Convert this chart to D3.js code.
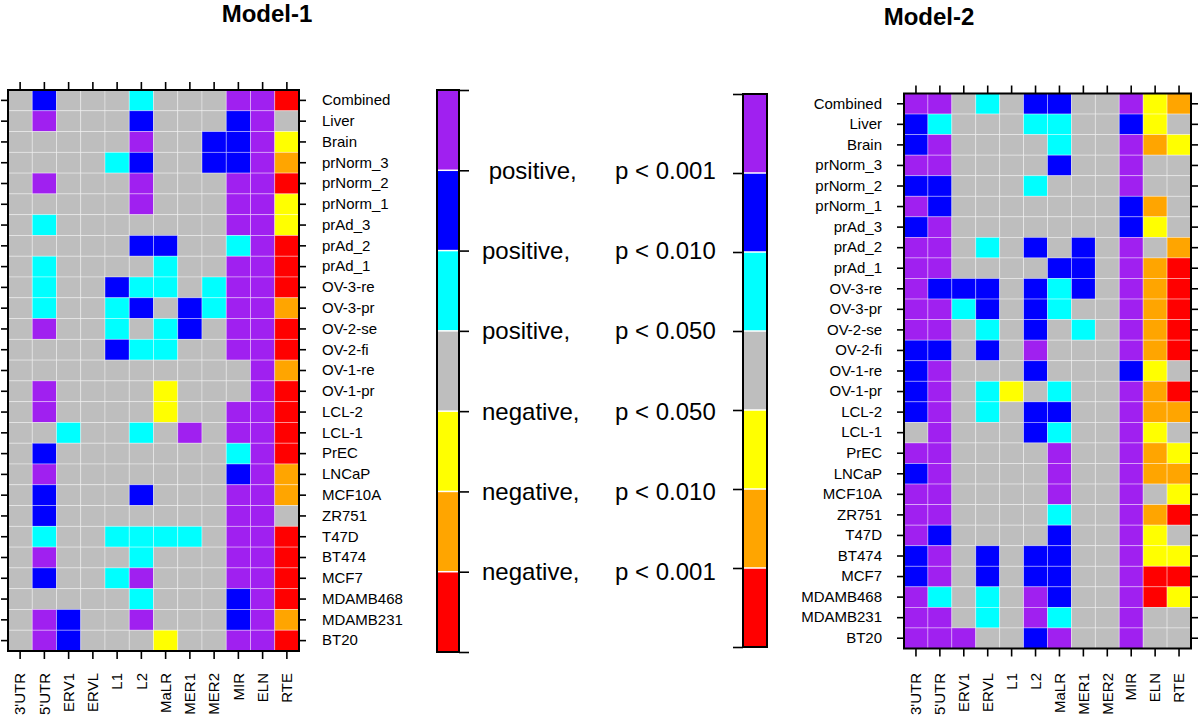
<!DOCTYPE html>
<html>
<head>
<meta charset="utf-8">
<script src="https://cdn.jsdelivr.net/npm/d3@7"></script>
<style>
body { margin: 0; background: #fff; }
svg { font-family: "Liberation Sans", Arial, Helvetica, sans-serif; }
</style>
</head>
<body>
<svg id="chart" width="1200" height="718"></svg>
<script>
const columns = ["3'UTR", "5'UTR", "ERV1", "ERVL", "L1", "L2", "MaLR", "MER1", "MER2", "MIR", "ELN", "RTE"];
const rows = ["Combined", "Liver", "Brain", "prNorm_3", "prNorm_2", "prNorm_1", "prAd_3", "prAd_2", "prAd_1",
    "OV-3-re", "OV-3-pr", "OV-2-se", "OV-2-fi", "OV-1-re", "OV-1-pr", "LCL-2", "LCL-1", "PrEC", "LNCaP",
    "MCF10A", "ZR751", "T47D", "BT474", "MCF7", "MDAMB468", "MDAMB231", "BT20"];

// 3 / 2 / 1 = positive p<0.001 / 0.010 / 0.050, 0 = n.s., -1 / -2 / -3 = negative p<0.050 / 0.010 / 0.001
const model1 = [
    [0,2,0,0,0,1,0,0,0,3,3,-3],
    [0,3,0,0,0,2,0,0,0,2,3,0],
    [0,0,0,0,0,3,0,0,2,2,3,-1],
    [0,0,0,0,1,2,0,0,2,2,3,-2],
    [0,3,0,0,0,3,0,0,0,3,3,-3],
    [0,0,0,0,0,3,0,0,0,3,3,-1],
    [0,1,0,0,0,0,0,0,0,3,3,-1],
    [0,0,0,0,0,2,2,0,0,1,3,-3],
    [0,1,0,0,0,0,1,0,0,3,3,-3],
    [0,1,0,0,2,1,1,0,1,3,3,-3],
    [0,1,0,0,1,2,0,2,1,3,3,-2],
    [0,3,0,0,1,0,1,2,0,3,3,-3],
    [0,0,0,0,2,1,1,0,0,3,3,-3],
    [0,0,0,0,0,0,0,0,0,0,3,-2],
    [0,3,0,0,0,0,-1,0,0,0,3,-3],
    [0,3,0,0,0,0,-1,0,0,3,3,-3],
    [0,0,1,0,0,1,0,3,0,3,3,-3],
    [0,2,0,0,0,0,0,0,0,1,3,-3],
    [0,3,0,0,0,0,0,0,0,2,3,-2],
    [0,2,0,0,0,2,0,0,0,3,3,-2],
    [0,2,0,0,0,0,0,0,0,3,3,0],
    [0,1,0,0,1,1,1,1,0,3,3,-3],
    [0,3,0,0,0,1,0,0,0,3,3,-3],
    [0,2,0,0,1,3,0,0,0,3,3,-3],
    [0,0,0,0,0,1,0,0,0,2,3,-3],
    [0,3,2,0,0,3,0,0,0,2,3,-2],
    [0,3,2,0,0,0,-1,0,0,3,3,-3]
];

const model2 = [
    [3,3,0,1,0,2,2,0,0,3,-1,-2],
    [2,1,0,0,0,1,1,0,0,2,-1,0],
    [2,3,0,0,0,0,1,0,0,3,-2,-1],
    [3,3,0,0,0,0,2,0,0,3,0,0],
    [2,2,0,0,0,1,0,0,0,3,0,0],
    [3,2,0,0,0,0,0,0,0,2,-2,0],
    [2,3,0,0,0,0,0,0,0,2,-1,0],
    [3,3,0,1,0,2,0,2,0,3,0,-2],
    [3,3,0,0,0,0,2,2,0,3,-2,-3],
    [3,2,2,2,0,2,1,2,0,3,-2,-3],
    [3,3,1,2,0,2,1,0,0,3,-2,-3],
    [3,3,0,1,0,2,0,1,0,3,-2,-3],
    [2,2,0,2,0,3,0,0,0,3,-2,-3],
    [2,3,0,0,0,2,0,0,0,2,-1,0],
    [2,3,0,1,-1,0,1,0,0,3,-2,-3],
    [2,3,0,1,0,2,2,0,0,3,-2,-2],
    [0,3,0,0,0,2,1,0,0,3,-1,0],
    [3,3,0,0,0,0,3,0,0,3,-2,-1],
    [2,3,0,0,0,0,3,0,0,3,-2,-2],
    [3,3,0,0,0,0,3,0,0,3,0,-1],
    [3,3,0,0,0,0,1,0,0,3,-2,-3],
    [3,2,0,0,0,0,2,0,0,3,-1,0],
    [2,3,0,2,0,2,2,0,0,3,-1,-1],
    [2,3,0,2,0,2,2,0,0,3,-3,-3],
    [3,1,0,1,0,3,2,0,0,3,-3,-1],
    [3,3,0,1,0,3,1,0,0,3,0,0],
    [3,3,3,0,0,2,3,0,0,3,0,0]
];

const levels = [3, 2, 1, 0, -1, -2, -3];
const levelColors = ["#A020F0", "#0000FF", "#00FFFF", "#BEBEBE", "#FFFF00", "#FFA500", "#FF0000"];
const breaks = [3.5, 2.5, 1.5, 0.5, -0.5, -1.5, -2.5, -3.5];
const labelBreaks = [2.5, 1.5, 0.5, -0.5, -1.5, -2.5];
const signLabels = [" positive,", "positive,", "positive,", "negative,", "negative,", "negative,"];
const pLabels = ["p < 0.001", "p < 0.010", "p < 0.050", "p < 0.050", "p < 0.010", "p < 0.001"];

const svg = d3.select("#chart");
const color = d3.scaleOrdinal().domain(levels).range(levelColors);

function styleAxis(g) {
    g.select(".domain").remove();
    g.selectAll(".tick line").attr("stroke", "#000").attr("stroke-width", 1.6);
    g.selectAll("text").attr("fill", "#000").style("font-size", "15px")
        .style("font-family", "'Liberation Sans', Arial, Helvetica, sans-serif");
}

function drawPanel(data, box, labelSide, title, titleX, titleY) {
    const x = d3.scaleBand().domain(columns).range([box.x0, box.x1]);
    const y = d3.scaleBand().domain(rows).range([box.y0, box.y1]);

    const cells = [];
    data.forEach((r, i) => r.forEach((v, j) => cells.push({ row: rows[i], col: columns[j], v: v })));

    svg.append("g").selectAll("rect")
        .data(cells)
        .enter()
        .append("rect")
        .attr("x", d => x(d.col))
        .attr("y", d => y(d.row))
        .attr("width", x.bandwidth())
        .attr("height", y.bandwidth())
        .attr("fill", d => color(d.v))
        .attr("stroke", "rgba(255,255,255,0.45)")
        .attr("stroke-width", 0.8);

    svg.append("rect")
        .attr("x", box.x0).attr("y", box.y0)
        .attr("width", box.x1 - box.x0).attr("height", box.y1 - box.y0)
        .attr("fill", "none").attr("stroke", "#000").attr("stroke-width", 2);

    const left = svg.append("g").attr("transform", `translate(${box.x0},0)`)
        .call(d3.axisLeft(y).tickSize(7).tickPadding(15)
            .tickFormat(labelSide === "left" ? d => d : ""));
    styleAxis(left);

    const right = svg.append("g").attr("transform", `translate(${box.x1},0)`)
        .call(d3.axisRight(y).tickSize(7).tickPadding(16)
            .tickFormat(labelSide === "right" ? d => d : ""));
    styleAxis(right);

    const top = svg.append("g").attr("transform", `translate(0,${box.y0})`)
        .call(d3.axisTop(x).tickSize(8).tickFormat(""));
    styleAxis(top);

    const bottom = svg.append("g").attr("transform", `translate(0,${box.y1})`)
        .call(d3.axisBottom(x).tickSize(8));
    styleAxis(bottom);
    bottom.selectAll("text")
        .attr("transform", "rotate(-90)")
        .attr("x", -(673 - box.y1))
        .attr("y", 0)
        .attr("dy", "0.35em")
        .style("text-anchor", "end");

    svg.append("text")
        .attr("x", titleX).attr("y", titleY)
        .attr("text-anchor", "middle")
        .style("font-size", "24px").style("font-weight", "bold")
        .text(title);
}

function drawColorbar(box, side) {
    const yb = d3.scaleLinear().domain([3.5, -3.5]).range([box.y0, box.y1]);
    const g = svg.append("g");

    g.selectAll("rect")
        .data(levels)
        .enter()
        .append("rect")
        .attr("x", box.x0)
        .attr("y", d => yb(d + 0.5))
        .attr("width", box.x1 - box.x0)
        .attr("height", d => yb(d - 0.5) - yb(d + 0.5))
        .attr("fill", d => color(d));

    g.selectAll(".sep")
        .data(labelBreaks)
        .enter()
        .append("line")
        .attr("x1", box.x0).attr("x2", box.x1)
        .attr("y1", d => yb(d)).attr("y2", d => yb(d))
        .attr("stroke", "#fff").attr("stroke-width", 1.5);

    g.append("rect")
        .attr("x", box.x0).attr("y", box.y0)
        .attr("width", box.x1 - box.x0).attr("height", box.y1 - box.y0)
        .attr("fill", "none").attr("stroke", "#000").attr("stroke-width", 2);

    const axis = side === "right"
        ? d3.axisRight(yb).tickValues(breaks).tickSize(10).tickFormat("")
        : d3.axisLeft(yb).tickValues(breaks).tickSize(10).tickFormat("");
    const ax = svg.append("g")
        .attr("transform", `translate(${side === "right" ? box.x1 : box.x0},0)`)
        .call(axis);
    styleAxis(ax);
    return yb;
}

drawPanel(model1, { x0: 8, x1: 299, y0: 90, y1: 651 }, "right", "Model-1", 267, 22);
drawPanel(model2, { x0: 904, x1: 1191, y0: 93.5, y1: 648.5 }, "left", "Model-2", 929, 25);

const yLegend = drawColorbar({ x0: 437, x1: 459, y0: 90, y1: 652 }, "right");
drawColorbar({ x0: 743, x1: 767, y0: 94, y1: 647 }, "left");

svg.append("g").selectAll("text")
    .data(labelBreaks)
    .enter()
    .append("text")
    .attr("x", 482)
    .attr("y", d => yLegend(d))
    .attr("dy", "0.35em")
    .style("font-size", "24px")
    .style("white-space", "pre")
    .text((d, i) => signLabels[i]);

svg.append("g").selectAll("text")
    .data(labelBreaks)
    .enter()
    .append("text")
    .attr("x", 615)
    .attr("y", d => yLegend(d))
    .attr("dy", "0.35em")
    .style("font-size", "24px")
    .text((d, i) => pLabels[i]);
</script>
</body>
</html>
